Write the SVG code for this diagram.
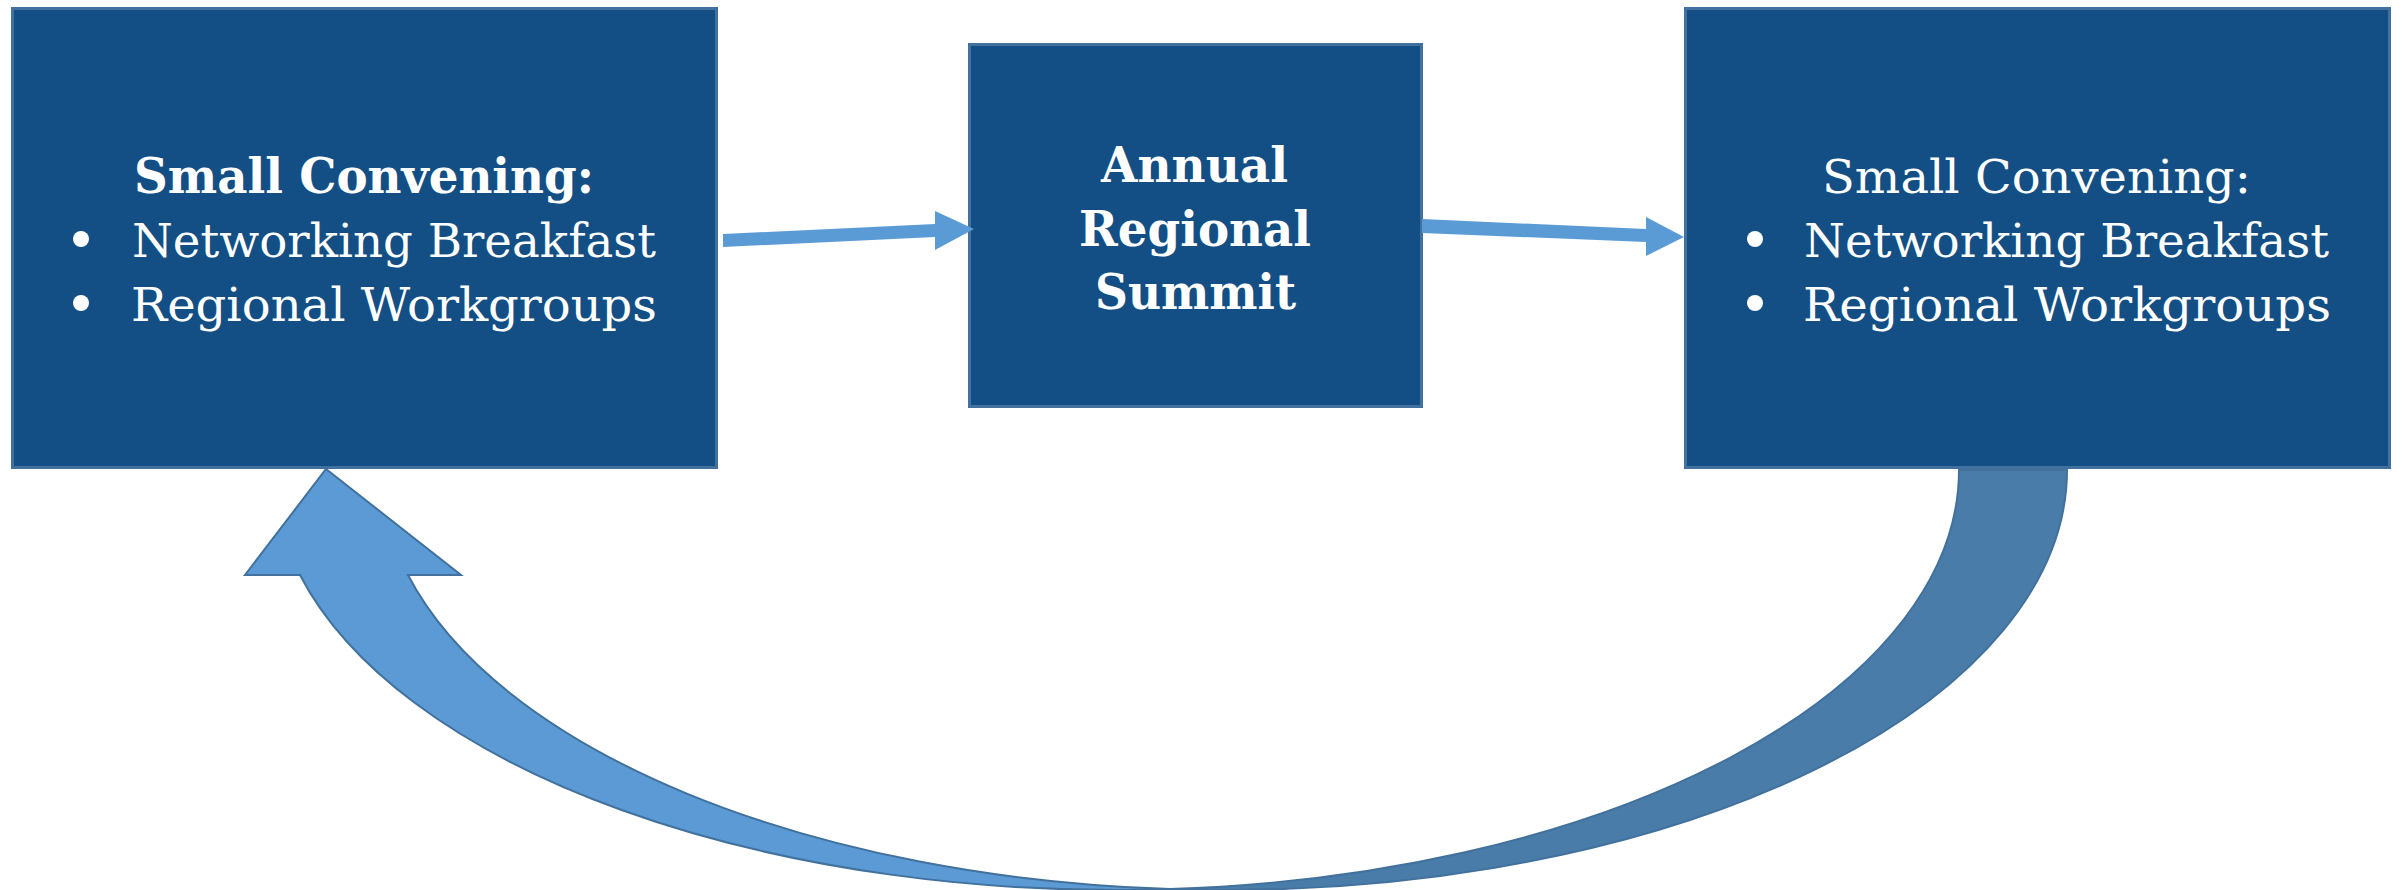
<svg xmlns="http://www.w3.org/2000/svg" width="2402" height="890" viewBox="0 0 2402 890">
<style>
.box{fill:#134F84;stroke:#4271A0;stroke-width:3}
.t{fill:#FFFFFF;font-family:"DejaVu Serif","Liberation Serif",serif;font-size:47px}
.b{font-weight:bold;font-size:48px}
.bul{fill:#FFFFFF}
.sa{fill:#5B9BD5}
.cl{fill:#5B9AD4;stroke:#41719C;stroke-width:2;stroke-linejoin:miter}
.cd{fill:#4A7CAA;stroke:#41719C;stroke-width:2}
</style>
<rect width="2402" height="890" fill="#FFFFFF"/>
<g id="node-left">
<rect class="box" x="12.5" y="8.5" width="704" height="459"/>
<text class="t b" x="134" y="193" textLength="460" lengthAdjust="spacingAndGlyphs">Small Convening:</text>
<circle class="bul" cx="81" cy="239" r="8"/>
<text class="t" x="132" y="257" textLength="524" lengthAdjust="spacingAndGlyphs">Networking Breakfast</text>
<circle class="bul" cx="81" cy="303" r="8"/>
<text class="t" x="131" y="321" textLength="526" lengthAdjust="spacingAndGlyphs">Regional Workgroups</text>
</g>
<g id="node-middle">
<rect class="box" x="969.5" y="44.5" width="452" height="362"/>
<text class="t b" x="1101" y="182" font-size="49" textLength="187" lengthAdjust="spacingAndGlyphs">Annual</text>
<text class="t b" x="1079" y="246" font-size="49" textLength="232" lengthAdjust="spacingAndGlyphs">Regional</text>
<text class="t b" x="1095" y="309" font-size="49" textLength="201" lengthAdjust="spacingAndGlyphs">Summit</text>
</g>
<g id="node-right">
<rect class="box" x="1685.5" y="8.5" width="704" height="459"/>
<text class="t" x="1822" y="193" textLength="429" lengthAdjust="spacingAndGlyphs">Small Convening:</text>
<circle class="bul" cx="1755" cy="239" r="8"/>
<text class="t" x="1804" y="257" textLength="525" lengthAdjust="spacingAndGlyphs">Networking Breakfast</text>
<circle class="bul" cx="1755" cy="303" r="8"/>
<text class="t" x="1803" y="321" textLength="528" lengthAdjust="spacingAndGlyphs">Regional Workgroups</text>
</g>
<g id="connectors">
<polygon class="sa" points="723,234 935,224 935,211 974,229 935,250 935,237 723,247"/>
<polygon class="sa" points="1422,219 1646,229 1646,217 1684,237 1646,256 1646,242 1422,233"/>
<path class="cd" d="M2067,470 A843,420 0 0 1 1170,889.1 A843,420 0 0 0 1959,470 Z"/>
<path class="cl" d="M326,469 L461,575 L408,575 A843,420 0 0 0 1170,889.1 A843,420 0 0 1 300,575 L245,575 Z"/>
</g>
</svg>
